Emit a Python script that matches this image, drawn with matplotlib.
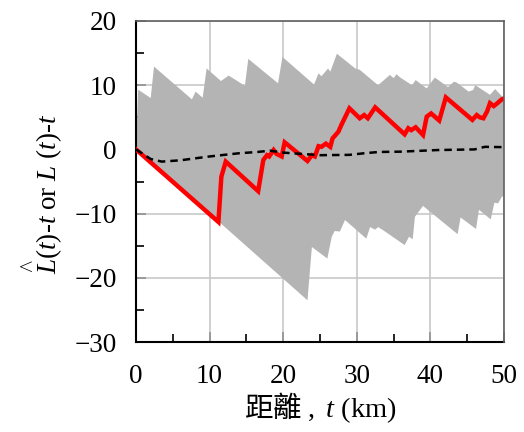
import matplotlib
matplotlib.use("Agg")
import matplotlib.pyplot as plt
from matplotlib.ticker import MultipleLocator

plt.rcParams['font.family'] = ['Liberation Serif', 'Noto Sans CJK TC']
plt.rcParams['mathtext.fontset'] = 'custom'
plt.rcParams['mathtext.rm'] = 'Liberation Serif'
plt.rcParams['mathtext.it'] = 'Liberation Serif:italic'
plt.rcParams['mathtext.sf'] = 'Noto Sans CJK TC'

# Upper envelope of the simulation band
upper_t = [0, 0.3, 2.0, 2.45, 7.6, 8.1, 9.06, 9.6, 11.55, 12.6, 14.8, 15.26, 19.3, 19.9,
           24.2, 24.8, 25.2, 26.1, 26.4, 27.3, 29.8, 30.4, 32.9, 34.1, 34.5, 35.0, 35.4,
           35.9, 37.5, 38.0, 39.5, 40.6, 42.4, 43.2, 43.6, 45.2, 45.8, 46.1, 48.1, 48.8,
           49.7, 50]
upper_v = [0, 9.3, 8.0, 12.9, 7.8, 9.0, 8.05, 12.6, 10.65, 11.5, 9.9, 14.1, 10.3, 14.4,
           10.1, 11.85, 11.4, 12.6, 12.1, 14.9, 12.6, 12.4, 10.0, 11.2, 11.6, 11.1, 11.7,
           11.2, 10.0, 10.8, 9.5, 11.2, 9.7, 10.55, 10.4, 9.0, 9.25, 10.0, 8.5, 9.4,
           8.3, 8.2]
# Lower envelope of the simulation band
lower_t = [0, 11.2, 23.3, 23.9, 26.0, 26.6, 27.0, 27.7, 28.4, 31.3, 31.8, 32.5, 32.9,
           33.6, 36.5, 37.1, 37.6, 37.9, 39.0, 43.7, 44.1, 46.2, 46.6, 48.2, 48.7, 49.2,
           49.7, 50]
lower_v = [0, -11.2, -23.5, -15.2, -17.0, -13.6, -12.7, -12.8, -11.0, -13.9, -12.1, -12.5,
           -12.1, -12.6, -14.9, -13.6, -14.0, -10.5, -8.8, -13.2, -10.6, -12.4, -9.4, -10.9,
           -8.3, -8.4, -7.4, -7.2]
# Observed L(t)-t
obs_t = [0, 11.2, 11.6, 12.2, 16.6, 17.3, 17.8, 18.1, 18.7, 19.1, 19.8, 20.2, 23.3, 23.9,
         24.3, 24.8, 25.2, 25.8, 26.4, 26.7, 27.5, 27.9, 29.0, 30.4, 31.0, 31.5, 32.5,
         36.5, 37.0, 37.4, 38.0, 39.0, 39.5, 40.1, 41.2, 42.1, 45.7, 46.3, 46.7, 47.2,
         47.7, 48.1, 48.6, 49.0, 49.7, 50]
obs_v = [0, -11.3, -4.25, -1.9, -6.5, -1.65, -0.9, -1.1, -0.1, -0.7, -1.1, 1.1, -1.8, -0.9,
         -1.1, 0.5, 0.4, 0.9, 0.4, 1.7, 2.75, 3.8, 6.4, 4.85, 5.35, 4.85, 6.55,
         2.35, 3.3, 3.0, 3.45, 2.25, 5.1, 5.6, 4.5, 8.1, 4.6, 5.35, 5.0, 4.85,
         5.9, 7.2, 6.75, 7.1, 7.8, 7.9]
# Mean of simulations
mean_t = [0, 2.0, 3.5, 6.0, 10.0, 14.0, 16.5, 18.2, 20.0, 25.0, 29.0, 31.0, 33.0, 36.0,
          41.0, 46.0, 47.4, 50]
mean_v = [0, -1.5, -1.9, -1.7, -1.1, -0.6, -0.4, -0.2, -0.5, -0.9, -0.85, -0.6, -0.4, -0.35,
          -0.1, 0.0, 0.4, 0.35]

fig = plt.figure(figsize=(5.24, 4.32), dpi=100)
ax = fig.add_axes([0.2595, 0.2083, 0.7023, 0.7431])

poly_t = upper_t + lower_t[::-1]
poly_v = upper_v + lower_v[::-1]
ax.fill(poly_t, poly_v, color='#b4b4b4', lw=0, zorder=1)
ax.plot(obs_t, obs_v, color='#ff0000', lw=3.2, zorder=3, solid_joinstyle='miter')
ax.plot(mean_t, mean_v, color='black', lw=1.8, ls=(0, (3, 2)), zorder=4)

ax.set_xlim(0, 50)
ax.set_ylim(-30, 20)
ax.xaxis.set_major_locator(MultipleLocator(10))
ax.xaxis.set_minor_locator(MultipleLocator(5))
ax.yaxis.set_major_locator(MultipleLocator(10))
ax.yaxis.set_minor_locator(MultipleLocator(5))
ax.grid(True, which='major', color='#c8c8c8', lw=1.2, zorder=0)
ax.set_axisbelow(True)
ax.tick_params(which='major', direction='in', length=7, width=1.2, color='#909090',
               labelsize=19.5)
ax.tick_params(which='minor', direction='in', length=6, width=1.2, color='black')
ax.tick_params(axis='x', which='major', pad=16)
ax.tick_params(axis='y', which='major', pad=14)
for s in ['left', 'bottom']:
    ax.spines[s].set_color('black')
    ax.spines[s].set_linewidth(1.5)
for s in ['top', 'right']:
    ax.spines[s].set_color('#606060')
    ax.spines[s].set_linewidth(1.2)
    ax.spines[s].set_zorder(5)

ax.set_xlabel(r'$\mathsf{距離}\ ,\ t\ (\mathrm{km})$', fontsize=20.5, labelpad=1)
ax.set_ylabel(r'$\overset{\wedge}{L}(t)$-$t$ or $L$ $(t)$-$t$', fontsize=19.5)
ax.yaxis.set_label_coords(-0.19, 0.46)

fig.savefig('out.png', dpi=100)
